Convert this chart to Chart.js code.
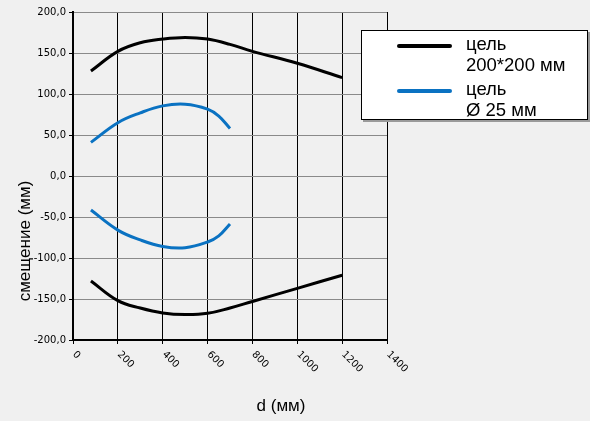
<!DOCTYPE html>
<html lang="ru">
<head>
    <meta charset="UTF-8">
    <title>смещение</title>
    <script src="https://cdn.jsdelivr.net/npm/chart.js"></script>
<style>
    body {
        margin: 0;
        background: #f0f0f0;
    }
    .wrap {
        position: relative;
        width: 590px;
        height: 421px;
    }
    .legend {
        position: absolute;
        left: 361px;
        top: 30px;
        width: 225px;
        height: 88px;
        background: #fff;
        border: 1px solid #000;
        box-shadow: 2px 2px 0 #9a9a9a;
        font-family: "Liberation Sans", Arial, sans-serif;
        font-size: 18.5px;
        line-height: 21px;
        color: #000;
    }
    .legend .swatch {
        position: absolute;
        left: 35px;
        width: 55px;
        height: 4px;
        border-radius: 2px;
    }
    .legend .txt {
        position: absolute;
        left: 104px;
        width: 130px;
        white-space: pre-line;
    }
</style>
</head>
<body>
<div class="wrap">
    <canvas id="chart"></canvas>
    <div class="legend" id="legend"></div>
</div>

<script>
    // данные
    var seriesNames = ["цель\n200*200 мм", "цель\nØ 25 мм"];
    var seriesColors = ["#000000", "#0a72c2"];

    var dBig = [80, 200, 300, 400, 500, 600, 700, 800, 1000, 1200];
    var bigUpper = [128, 152, 162.5, 167, 169, 167, 160.5, 152, 137.5, 120];
    var bigLower = [-128, -152, -161, -167, -169, -167.5, -161, -153, -137, -121];

    var dSmall = [80, 200, 300, 400, 500, 600, 650, 700];
    var smallUpper = [41, 65, 77, 85.5, 87.5, 81.5, 73, 58];
    var smallLower = [-41.5, -66, -78, -86, -87.5, -80.5, -73, -58.5];

    var xTicks = [0, 200, 400, 600, 800, 1000, 1200, 1400];
    var yTitle = "смещение (мм)";
    var xTitle = "d (мм)";

    function toPoints(xs, ys) {
        var pts = [];
        for (var i = 0; i < xs.length; i++) pts.push({x: xs[i], y: ys[i]});
        return pts;
    }

    function lineSet(pts, color) {
        return {
            data: pts,
            borderColor: color,
            borderWidth: 3,
            pointRadius: 0,
            showLine: true,
            fill: false,
            tension: 0.4
        };
    }

    var datasets = [
        lineSet(toPoints(dBig, bigUpper), seriesColors[0]),
        lineSet(toPoints(dBig, bigLower), seriesColors[0]),
        lineSet(toPoints(dSmall, smallUpper), seriesColors[1]),
        lineSet(toPoints(dSmall, smallLower), seriesColors[1])
    ];

    // легенда
    var legend = document.getElementById("legend");
    seriesNames.forEach(function (name, i) {
        var top = 2 + i * 45;
        var sw = document.createElement("div");
        sw.className = "swatch";
        sw.style.top = (top + 11) + "px";
        sw.style.background = seriesColors[i];
        var tx = document.createElement("div");
        tx.className = "txt";
        tx.style.top = top + "px";
        tx.textContent = name;
        legend.appendChild(sw);
        legend.appendChild(tx);
    });

    // подписи оси X повернуты вниз-вправо, и заголовки осей
    var extraText = {
        id: 'extraText',
        afterDraw: function (chart) {
            var ctx = chart.ctx;
            var xs = chart.scales.x;
            var area = chart.chartArea;
            ctx.save();
            ctx.fillStyle = '#000';
            ctx.font = '10px "DejaVu Sans"';
            ctx.textAlign = 'left';
            ctx.textBaseline = 'middle';
            xTicks.forEach(function (v) {
                var px = xs.getPixelForValue(v);
                ctx.save();
                ctx.translate(px + 1, area.bottom + 13);
                ctx.rotate(Math.PI / 4);
                ctx.fillText(String(v), 0, 0);
                ctx.restore();
            });
            ctx.font = '17px "Liberation Sans"';
            ctx.textAlign = 'center';
            ctx.fillText(xTitle, 281, 406);
            ctx.translate(25, 241);
            ctx.rotate(-Math.PI / 2);
            ctx.fillText(yTitle, 0, 0);
            ctx.restore();
        }
    };

    new Chart(document.getElementById("chart"), {
        type: 'scatter',
        data: {datasets: datasets},
        plugins: [extraText],
        options: {
            responsive: true,
            maintainAspectRatio: false,
            animation: false,
            layout: {padding: {left: 0, top: 12, right: 203, bottom: 0}},
            plugins: {
                legend: {display: false},
                tooltip: {enabled: false}
            },
            scales: {
                x: {
                    type: 'linear',
                    min: 0,
                    max: 1400,
                    afterFit: function (s) { s.height = 81; },
                    afterBuildTicks: function (s) {
                        s.ticks = xTicks.map(function (v) { return {value: v}; });
                    },
                    ticks: {color: 'rgba(0,0,0,0)', maxRotation: 0, font: {size: 10}},
                    grid: {color: '#000', lineWidth: 1, tickLength: 4, tickColor: '#000'},
                    border: {color: '#000', width: 2}
                },
                y: {
                    min: -200,
                    max: 200,
                    afterFit: function (s) { s.width = 73; },
                    ticks: {
                        stepSize: 50,
                        color: '#000',
                        padding: 3,
                        font: {family: '"DejaVu Sans"', size: 10},
                        callback: function (v) { return v.toFixed(1).replace('.', ','); }
                    },
                    grid: {color: '#8a8a8a', lineWidth: 1, tickLength: 4, tickColor: '#000'},
                    border: {color: '#000', width: 2}
                }
            }
        }
    });
</script>
</body>
</html>
